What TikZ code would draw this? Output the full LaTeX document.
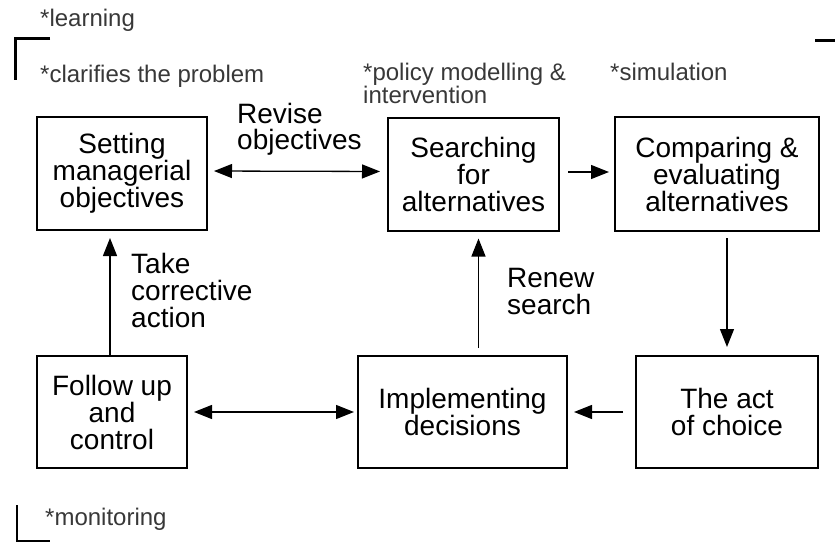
\documentclass[tikz,border=0pt]{standalone}
\usepackage{fontspec}
\setmainfont{Liberation Sans}
\usetikzlibrary{arrows.meta}
\begin{document}
\begin{tikzpicture}[x=1pt,y=-1pt,
  stagebox/.style={draw, line width=2pt, inner sep=0pt, align=center,
    font=\fontsize{28}{27}\selectfont},
  flowlabel/.style={anchor=north west, inner sep=0pt, align=left,
    font=\fontsize{28}{27}\selectfont},
  note/.style={anchor=base west, inner sep=0pt, align=left, text=black!78,
    font=\fontsize{24}{23}\selectfont},
  arr/.style={line width=1.3pt, -{Triangle[length=18pt,width=14pt]}},
  biarr/.style={line width=1.3pt, {Triangle[length=18pt,width=14pt]}-{Triangle[length=18pt,width=14pt]}},
  bracket/.style={line width=3pt}]
\useasboundingbox (0,0) rectangle (835,544);

% process stages
\node[stagebox, minimum width=170pt, minimum height=113pt] (setting) at (122,173.5)
  {Setting\\managerial\\objectives};
\node[stagebox, minimum width=171pt, minimum height=113pt] (search) at (473.5,174)
  {Searching\\for\\alternatives};
\node[stagebox, minimum width=204pt, minimum height=114pt] (compare) at (717,174)
  {Comparing \&\\evaluating\\alternatives};
\node[stagebox, minimum width=150pt, minimum height=112pt] (follow) at (112,412)
  {Follow up\\and\\control};
\node[stagebox, minimum width=209pt, minimum height=112pt] (implement) at (462.5,412)
  {Implementing\\decisions};
\node[stagebox, minimum width=182pt, minimum height=112pt] (choice) at (727,412)
  {The act\\of choice};

% connectors
\draw[biarr, shorten <=6pt, shorten >=7pt] ([yshift=2.5pt]setting.east) -- ([yshift=2.5pt]search.west);
\draw[arr, shorten <=8pt, shorten >=5pt] ([yshift=2pt]search.east) -- ([yshift=2pt]compare.west);
\draw[arr, shorten <=6pt, shorten >=8pt] (choice.north |- compare.south) -- (choice.north);
\draw[arr, shorten <=12pt, shorten >=6pt] (choice.west) -- (implement.east);
\draw[arr, shorten <=7pt, shorten >=7pt] ([xshift=16pt]implement.north) -- ([xshift=16pt]implement.north |- search.south);
\draw[biarr, shorten <=6pt, shorten >=3pt] (follow.east) -- (implement.west);
\draw[arr, shorten >=7pt] ([xshift=-2pt]follow.north) -- ([xshift=-2pt]follow.north |- setting.south);

% connector labels
\node[flowlabel, font=\fontsize{28}{26}\selectfont] (revise) at (237,103) {Revise\\objectives};
\node[flowlabel] (corrective) at (131,253) {Take\\corrective\\action};
\node[flowlabel] (renew) at (507,268) {Renew\\search};

% annotations
\node[note] (learning) at (40,26) {*learning};
\node[note] (clarifies) at (40,82) {*clarifies the problem};
\node[note] (policy) at (363,103) {*policy modelling \&\\intervention};
\node[note] (simulation) at (610,80) {*simulation};
\node[note] (monitoring) at (45,525) {*monitoring};

% bracket marks
\draw[bracket] (50,38) -- (15,38) -- (15,80);
\draw[bracket] (815,40) -- (835,40);
\draw[line width=2pt] (17,505) -- (17,541) -- (50,541);
\end{tikzpicture}
\end{document}
